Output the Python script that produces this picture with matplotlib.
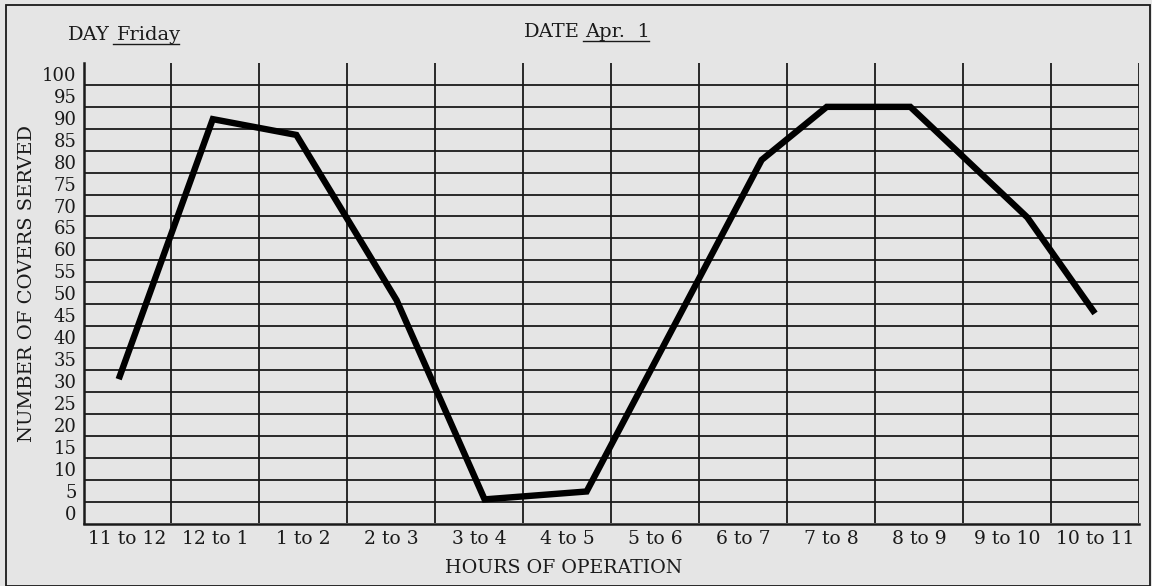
import numpy as np
import matplotlib.pyplot as plt
from matplotlib.lines import Line2D
from matplotlib.patches import Rectangle

plt.rcParams['font.family'] = ['DejaVu Serif']

hours = ['11 to 12', '12 to 1', '1 to 2', '2 to 3', '3 to 4', '4 to 5',
         '5 to 6', '6 to 7', '7 to 8', '8 to 9', '9 to 10', '10 to 11']
y_ticks = list(range(0, 101, 5))

# hand-drawn line (x in column units)
point_x = [-0.10, 0.97, 1.92, 3.06, 4.06, 5.22, 7.21, 7.95, 8.90, 10.23, 11.00]
covers = [30.4, 89.7, 86.1, 48.4, 3.0, 4.8, 80.4, 92.5, 92.5, 67.3, 45.4]

W, H = 1152, 586
bg = '#e5e5e5'
ink = '#1a1a1a'

fig = plt.figure(figsize=(W / 100, H / 100), dpi=100, facecolor=bg)
ax = fig.add_axes([83.5 / W, (H - 523.5) / H, (1139 - 83.5) / W, (523.5 - 63) / H])
ax.set_facecolor(bg)
ax.set_xlim(-0.5, len(hours) - 0.5)
ax.set_ylim(-2.5, 102.5)

# ruled grid
ax.hlines(np.arange(2.5, 100, 5), -0.5, len(hours) - 0.5, color=ink, lw=1.3, zorder=1)
ax.vlines(np.arange(0.5, len(hours) + 0.5, 1), -2.5, 102.5, color=ink, lw=1.3, zorder=1)

ax.plot(point_x, covers, color='black', lw=4.6, solid_joinstyle='miter',
        solid_capstyle='butt', zorder=3)

for s in ['top', 'right']:
    ax.spines[s].set_visible(False)
for s in ['left', 'bottom']:
    ax.spines[s].set_linewidth(1.8)
    ax.spines[s].set_color(ink)

ax.set_xticks(range(len(hours)))
ax.set_xticklabels(hours, fontsize=13.5)
ax.set_yticks(y_ticks)
ax.set_yticklabels([str(v) for v in y_ticks], fontsize=13)
ax.tick_params(length=0, pad=5, colors=ink)
ax.tick_params(axis='x', pad=5)

def px(x, y):
    return x / W, 1 - y / H

fig.text(*px(27, 283), 'NUMBER OF COVERS SERVED', rotation=90, fontsize=14,
         ha='center', va='center', color=ink)
fig.text(*px(564, 568), 'HOURS OF OPERATION', fontsize=13.7, ha='center',
         va='center', color=ink)

fig.text(*px(68, 35), 'DAY', fontsize=14, ha='left', va='center', color=ink)
fig.text(*px(117, 35), 'Friday', fontsize=14, ha='left', va='center', color=ink)
fig.add_artist(Line2D([113 / W, 179 / W], [1 - 44 / H] * 2, color=ink, lw=1.0))
fig.text(*px(524, 32), 'DATE', fontsize=14, ha='left', va='center', color=ink)
fig.text(*px(585, 32), 'Apr.  1', fontsize=14, ha='left', va='center', color=ink)
fig.add_artist(Line2D([583 / W, 649 / W], [1 - 41 / H] * 2, color=ink, lw=1.0))

# page border
fig.add_artist(Rectangle((5.5 / W, 0), (1149.5 - 5.5) / W, 1 - 4.5 / H,
                         transform=fig.transFigure, fill=False, ec=ink, lw=1.3))

fig.savefig('out.png', dpi=100, facecolor=bg)
